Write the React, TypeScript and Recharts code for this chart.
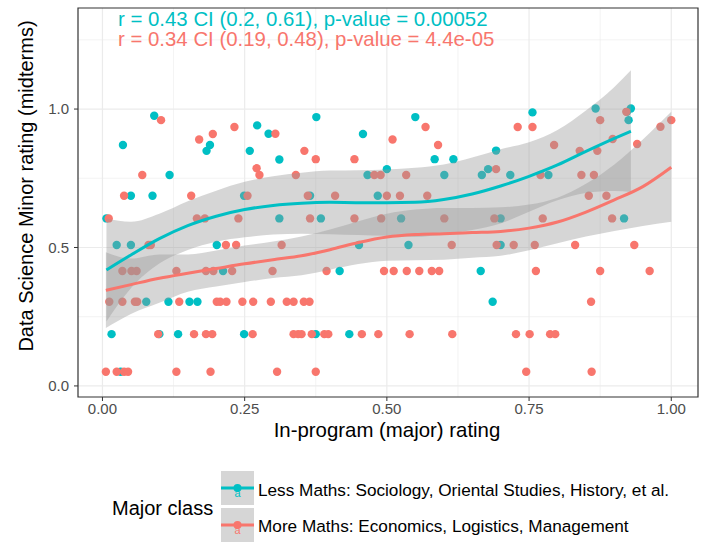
import { ComposedChart, Scatter, Area, Line, XAxis, YAxis, CartesianGrid, ReferenceArea } from 'recharts'

const TEAL = '#00BFC4'
const SALMON = '#F8766D'
const FONT = '"Liberation Sans", Arial, Helvetica, sans-serif'

const xTicks = [0, 0.25, 0.5, 0.75, 1]
const xMinor = [0.125, 0.375, 0.625, 0.875]
const yTicks = [0, 0.5, 1]
const yMinor = [0.25, 0.75, 1.25]
const xDomain = [-0.043, 1.047]
const yDomain = [-0.04, 1.365]

// Less Maths (teal) students: [in-program rating, DS minor rating]
const lessPoints = [
  [0.091, 0.976], [0.376, 0.971], [0.55, 0.971], [0.756, 0.988], [0.867, 1.002], [0.922, 0.99], [0.929, 1.002], [0.925, 0.96],
  [0.036, 0.87], [0.189, 0.87], [0.183, 0.849], [0.272, 0.941], [0.292, 0.911], [0.259, 0.849], [0.311, 0.818], [0.118, 0.762],
  [0.458, 0.91], [0.584, 0.819], [0.617, 0.819], [0.692, 0.85], [0.5, 0.783], [0.466, 0.762], [0.601, 0.762], [0.667, 0.762],
  [0.678, 0.783], [0.717, 0.762], [0.784, 0.762],
  [0.05, 0.687], [0.088, 0.687], [0.249, 0.687], [0.365, 0.687], [0.484, 0.687],
  [0.007, 0.605], [0.311, 0.605], [0.384, 0.605], [0.525, 0.605], [0.7, 0.605], [0.917, 0.605],
  [0.025, 0.509], [0.05, 0.509], [0.201, 0.509], [0.451, 0.509], [0.538, 0.509], [0.7, 0.509],
  [0.212, 0.415], [0.417, 0.415], [0.665, 0.415],
  [0.077, 0.304], [0.116, 0.304], [0.153, 0.304], [0.167, 0.304], [0.686, 0.304],
  [0.016, 0.187], [0.1, 0.187], [0.133, 0.187], [0.249, 0.187], [0.375, 0.187], [0.434, 0.187],
  [0.032, 0.051],
]

// More Maths (salmon) students
const morePoints = [
  [0.103, 0.96], [0.17, 0.89], [0.194, 0.91], [0.232, 0.935], [0.304, 0.911], [0.271, 0.786], [0.276, 0.762], [0.07, 0.762],
  [0.568, 0.935], [0.51, 0.89], [0.59, 0.87], [0.355, 0.849], [0.375, 0.819], [0.443, 0.819], [0.34, 0.762], [0.478, 0.762],
  [0.489, 0.762], [0.534, 0.762], [0.692, 0.783], [0.73, 0.935], [0.756, 0.935], [0.77, 0.762], [0.794, 0.87], [0.839, 0.849],
  [0.87, 0.849], [0.842, 0.762], [0.864, 0.762], [0.875, 0.96], [0.897, 0.892], [0.921, 0.99], [0.94, 0.874], [0.981, 0.936],
  [1.0, 0.96],
  [0.038, 0.687], [0.156, 0.687], [0.255, 0.687], [0.361, 0.687], [0.409, 0.687], [0.5, 0.687], [0.523, 0.687], [0.571, 0.687],
  [0.855, 0.687], [0.886, 0.687],
  [0.011, 0.605], [0.166, 0.605], [0.18, 0.605], [0.239, 0.605], [0.365, 0.605], [0.443, 0.605], [0.49, 0.605], [0.601, 0.605],
  [0.689, 0.605], [0.774, 0.605], [0.896, 0.605],
  [0.081, 0.509], [0.085, 0.509], [0.217, 0.509], [0.235, 0.509], [0.315, 0.509], [0.614, 0.509], [0.693, 0.509], [0.723, 0.509],
  [0.76, 0.509], [0.831, 0.509], [0.935, 0.509],
  [0.035, 0.415], [0.051, 0.415], [0.06, 0.415], [0.13, 0.415], [0.182, 0.415], [0.195, 0.415], [0.228, 0.415], [0.299, 0.415],
  [0.394, 0.415], [0.495, 0.415], [0.512, 0.415], [0.535, 0.415], [0.557, 0.415], [0.579, 0.415], [0.592, 0.415], [0.762, 0.415],
  [0.875, 0.415], [0.962, 0.415],
  [0.012, 0.304], [0.035, 0.304], [0.057, 0.304], [0.061, 0.304], [0.135, 0.304], [0.201, 0.304], [0.207, 0.304], [0.218, 0.304],
  [0.246, 0.304], [0.265, 0.304], [0.296, 0.304], [0.324, 0.304], [0.336, 0.304], [0.354, 0.304], [0.364, 0.304], [0.859, 0.304],
  [0.098, 0.187], [0.161, 0.187], [0.182, 0.187], [0.193, 0.187], [0.264, 0.187], [0.336, 0.187], [0.344, 0.187], [0.35, 0.187],
  [0.368, 0.187], [0.39, 0.187], [0.397, 0.187], [0.456, 0.187], [0.485, 0.187], [0.54, 0.187], [0.615, 0.187], [0.727, 0.187],
  [0.751, 0.187], [0.787, 0.187], [0.796, 0.187],
  [0.006, 0.051], [0.025, 0.051], [0.038, 0.051], [0.045, 0.051], [0.13, 0.051], [0.19, 0.051], [0.307, 0.051], [0.375, 0.051],
  [0.745, 0.051], [0.86, 0.051],
]

// loess fits with 95% bands
const lessSmoothX = [0.007, 0.05, 0.1, 0.15, 0.2, 0.25, 0.3, 0.35, 0.4, 0.45, 0.5, 0.55, 0.6, 0.65, 0.7, 0.75, 0.8, 0.85, 0.9, 0.929]
const lessFit = [0.419, 0.473, 0.532, 0.579, 0.613, 0.637, 0.652, 0.66, 0.663, 0.662, 0.662, 0.663, 0.673, 0.693, 0.722, 0.757, 0.798, 0.847, 0.894, 0.92]
const lessHi = [0.605, 0.593, 0.622, 0.667, 0.705, 0.737, 0.757, 0.77, 0.778, 0.779, 0.782, 0.788, 0.8, 0.825, 0.855, 0.88, 0.924, 0.995, 1.08, 1.14]
const lessLo = [0.233, 0.353, 0.442, 0.491, 0.521, 0.537, 0.547, 0.55, 0.548, 0.545, 0.542, 0.538, 0.548, 0.563, 0.587, 0.629, 0.671, 0.697, 0.704, 0.7]

const moreSmoothX = [0.006, 0.05, 0.1, 0.15, 0.2, 0.25, 0.3, 0.35, 0.4, 0.45, 0.5, 0.55, 0.6, 0.65, 0.7, 0.75, 0.8, 0.85, 0.9, 0.95, 1.0]
const moreFit = [0.345, 0.366, 0.389, 0.407, 0.424, 0.441, 0.456, 0.47, 0.492, 0.518, 0.538, 0.547, 0.55, 0.554, 0.558, 0.57, 0.592, 0.628, 0.672, 0.72, 0.79]
const moreHi = [0.483, 0.46, 0.475, 0.475, 0.489, 0.507, 0.522, 0.54, 0.565, 0.595, 0.622, 0.637, 0.643, 0.643, 0.645, 0.655, 0.68, 0.73, 0.8, 0.89, 0.99]
const moreLo = [0.209, 0.26, 0.3, 0.34, 0.359, 0.375, 0.39, 0.4, 0.42, 0.44, 0.452, 0.454, 0.456, 0.463, 0.47, 0.49, 0.515, 0.54, 0.56, 0.578, 0.593]

const toRows = (pts: number[][]) => pts.map(([x, y]) => ({ x, y }))
const toSmooth = (xs: number[], fit: number[], lo: number[], hi: number[]) =>
  xs.map((x, i) => ({ x, fit: fit[i], band: [lo[i], hi[i]] }))

const lessData = toRows(lessPoints)
const moreData = toRows(morePoints)
const lessSmooth = toSmooth(lessSmoothX, lessFit, lessLo, lessHi)
const moreSmooth = toSmooth(moreSmoothX, moreFit, moreLo, moreHi)

const dot = (color: string) => (props: any) => <circle cx={props.cx} cy={props.cy} r={4.2} fill={color} />

function LegendKey({ y, color }: { y: number; color: string }) {
  return (
    <g>
      <rect x={221} y={y} width={33} height={34} fill="#D6D6D6" />
      <line x1={221} x2={254} y1={y + 17} y2={y + 17} stroke={color} strokeWidth={3} />
      <circle cx={237.5} cy={y + 17} r={4} fill={color} />
      <text x={237.5} y={y + 26} fontSize={11} fill={color} textAnchor="middle" fontFamily={FONT}>a</text>
    </g>
  )
}

export default function App() {
  return (
    <div style={{ position: 'absolute', left: 0, top: 0, width: 703, height: 543, background: '#fff', fontFamily: FONT }}>
      <ComposedChart width={703} height={543} margin={{ top: 8, right: 5, bottom: 106, left: 0 }}>
        <CartesianGrid horizontalValues={yMinor} verticalValues={xMinor} stroke="#EBEBEB" strokeWidth={0.6} />
        <CartesianGrid horizontalValues={yTicks} verticalValues={xTicks} stroke="#EBEBEB" strokeWidth={1.2} />
        <XAxis
          type="number"
          dataKey="x"
          domain={xDomain}
          allowDataOverflow
          ticks={xTicks}
          tickFormatter={(v: number) => v.toFixed(2)}
          height={40}
          axisLine={false}
          tickLine={{ stroke: '#333333' }}
          tickSize={4}
          tickMargin={2}
          tick={{ fill: '#4D4D4D', fontSize: 15, fontFamily: FONT }}
        />
        <YAxis
          type="number"
          dataKey="y"
          domain={yDomain}
          allowDataOverflow
          ticks={yTicks}
          tickFormatter={(v: number) => v.toFixed(1)}
          width={78}
          axisLine={false}
          tickLine={{ stroke: '#333333' }}
          tickSize={4}
          tickMargin={5}
          tick={{ fill: '#4D4D4D', fontSize: 15, fontFamily: FONT }}
        />
        <Scatter data={lessData} shape={dot(TEAL)} zIndex={50} isAnimationActive={false} />
        <Scatter data={moreData} shape={dot(SALMON)} zIndex={50} isAnimationActive={false} />
        <Area data={lessSmooth} dataKey="band" type="monotone" stroke="none" fill="#999999" fillOpacity={0.4} isAnimationActive={false} />
        <Area data={moreSmooth} dataKey="band" type="monotone" stroke="none" fill="#999999" fillOpacity={0.4} isAnimationActive={false} />
        <Line data={lessSmooth} dataKey="fit" type="monotone" stroke={TEAL} strokeWidth={3} dot={false} isAnimationActive={false} />
        <Line data={moreSmooth} dataKey="fit" type="monotone" stroke={SALMON} strokeWidth={3} dot={false} isAnimationActive={false} />
        <ReferenceArea x1={xDomain[0]} x2={xDomain[1]} y1={yDomain[0]} y2={yDomain[1]} fill="none" stroke="#333333" strokeWidth={1.2} />
      </ComposedChart>
      <svg width={703} height={543} style={{ position: 'absolute', left: 0, top: 0, pointerEvents: 'none' }}>
        <text x={118} y={26} fontSize={20.4} fill={TEAL} fontFamily={FONT}>r = 0.43 CI (0.2, 0.61), p-value = 0.00052</text>
        <text x={118} y={46} fontSize={20.4} fill={SALMON} fontFamily={FONT}>r = 0.34 CI (0.19, 0.48), p-value = 4.4e-05</text>
        <text x={387} y={437} fontSize={20.4} fill="#000" textAnchor="middle" fontFamily={FONT}>In-program (major) rating</text>
        <text x={33} y={186} fontSize={20} fill="#000" textAnchor="middle" fontFamily={FONT} transform="rotate(-90 33 186)">
          Data Science Minor rating (midterms)
        </text>
        <text x={112} y={515} fontSize={20} fill="#000" fontFamily={FONT}>Major class</text>
        <LegendKey y={471} color={TEAL} />
        <LegendKey y={508} color={SALMON} />
        <text x={258} y={496} fontSize={17.2} fill="#000" fontFamily={FONT}>Less Maths: Sociology, Oriental Studies, History, et al.</text>
        <text x={258} y={532} fontSize={17.2} fill="#000" fontFamily={FONT}>More Maths: Economics, Logistics, Management</text>
      </svg>
    </div>
  )
}
